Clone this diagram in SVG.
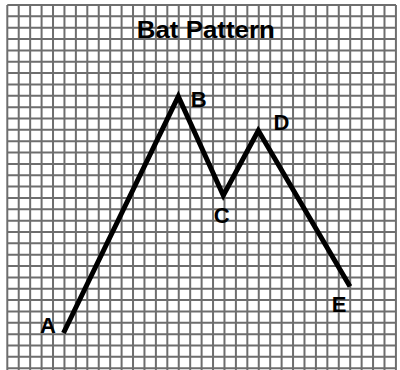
<svg xmlns="http://www.w3.org/2000/svg" width="400" height="370" viewBox="0 0 400 370">
<style>
.grid{stroke:#6e6e6e;stroke-width:2;fill:none}
.zig{stroke:#000;stroke-width:5;fill:none;stroke-linejoin:miter;stroke-miterlimit:10}
.lbl{font-family:"Liberation Sans",Arial,sans-serif;font-weight:bold;font-size:22px;fill:#000}
.title{font-family:"Liberation Sans",Arial,sans-serif;font-weight:bold;font-size:23.5px;fill:#000}
</style>
<rect width="400" height="370" fill="#fff"/>
<g id="grid">
<path class="grid" d="M7.3 5V370M18.73 5V370M30.16 5V370M41.59 5V370M53.02 5V370M64.45 5V370M75.88 5V370M87.31 5V370M98.74 5V370M110.17 5V370M121.6 5V370M133.03 5V370M144.46 5V370M155.89 5V370M167.32 5V370M178.75 5V370M190.18 5V370M201.61 5V370M213.04 5V370M224.47 5V370M235.9 5V370M247.33 5V370M258.76 5V370M270.19 5V370M281.62 5V370M293.05 5V370M304.48 5V370M315.91 5V370M327.34 5V370M338.77 5V370M350.2 5V370M361.63 5V370M373.06 5V370M384.49 5V370M395.92 5V370"/>
<path class="grid" d="M7.3 5H396M7.3 16.35H396M7.3 27.7H396M7.3 39.05H396M7.3 50.4H396M7.3 61.75H396M7.3 73.1H396M7.3 84.45H396M7.3 95.8H396M7.3 107.15H396M7.3 118.5H396M7.3 129.85H396M7.3 141.2H396M7.3 152.55H396M7.3 163.9H396M7.3 175.25H396M7.3 186.6H396M7.3 197.95H396M7.3 209.3H396M7.3 220.65H396M7.3 232H396M7.3 243.35H396M7.3 254.7H396M7.3 266.05H396M7.3 277.4H396M7.3 288.75H396M7.3 300.1H396M7.3 311.45H396M7.3 322.8H396M7.3 334.15H396M7.3 345.5H396M7.3 356.85H396M7.3 368.2H396"/>
</g>
<text class="title" x="205.8" y="38.3" text-anchor="middle" textLength="138" lengthAdjust="spacingAndGlyphs">Bat Pattern</text>
<g id="connectors">
<polyline class="zig" points="63.5,333 178.3,96.5 223.3,195.5 258.3,130.5 350,286.5"/>
</g>
<g id="A"><text class="lbl" x="48" y="333.3" text-anchor="middle">A</text></g>
<g id="B"><text class="lbl" x="198.7" y="106.7" text-anchor="middle">B</text></g>
<g id="C"><text class="lbl" x="221.7" y="222.7" text-anchor="middle">C</text></g>
<g id="D"><text class="lbl" x="281.5" y="130" text-anchor="middle">D</text></g>
<g id="E"><text class="lbl" x="339.2" y="311.5" text-anchor="middle">E</text></g>
</svg>
